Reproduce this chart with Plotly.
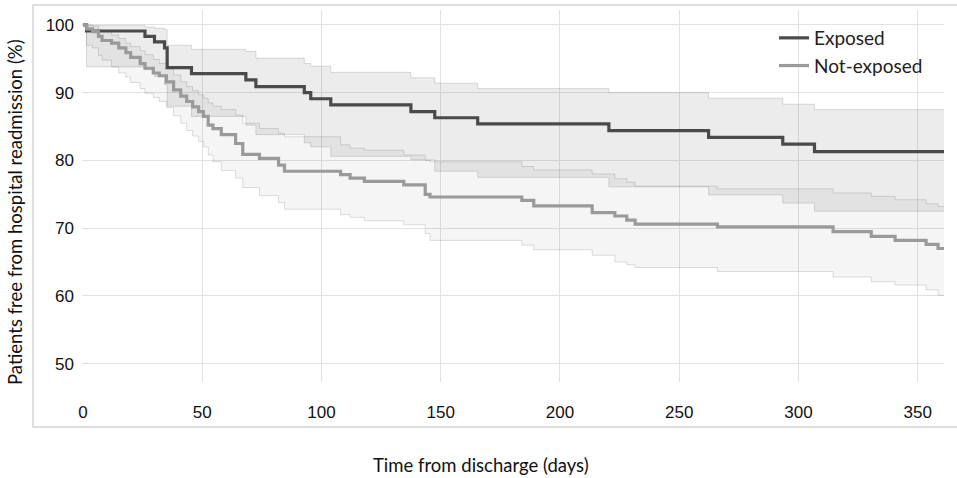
import plotly.graph_objects as go

# ---------------- data ----------------
exp_days = [0, 1.5, 26, 30, 34.2, 35.3, 45.5, 68.3, 72.5, 92.8, 95.5, 103.9, 137.5, 147.5, 165.5, 220.5, 262.3, 293.4, 306.7, 361]
exp_surv = [100, 99.1, 98.3, 97.5, 96.6, 93.7, 92.8, 91.9, 90.9, 90.0, 89.1, 88.2, 87.2, 86.3, 85.4, 84.4, 83.4, 82.4, 81.3, 81.3]
exp_upper = [100, 99.9, 99.7, 99.5, 99.3, 97.0, 96.4, 96.1, 95.1, 94.3, 93.9, 93.0, 92.2, 91.4, 90.6, 90.0, 89.2, 88.3, 87.5, 87.5]
exp_lower = [100, 93.8, 93.4, 92.4, 91.2, 88.0, 86.5, 85.2, 83.8, 82.6, 82.0, 80.6, 80.1, 78.4, 77.5, 76.1, 74.9, 73.7, 72.5, 72.5]

nexp_days = [0, 1.5, 4, 6.5, 8, 12, 15, 18, 20, 24, 26, 29.5, 32, 35, 38, 41, 43.5, 46, 48.5, 50.5,
             52.5, 54.5, 58, 64, 67, 74, 82, 84.5, 108, 112, 118, 134.5, 143.5, 145.5, 184, 189,
             213.5, 223, 228, 231.5, 266, 314.5, 330.5, 340.5, 353.5, 358.5, 361]
nexp_surv = [100, 99.4, 99.0, 98.3, 97.7, 97.3, 96.6, 95.9, 95.2, 94.3, 93.6, 92.9, 92.5, 91.6, 90.4, 89.5, 88.7, 87.9, 87.2, 86.5,
             85.2, 84.7, 83.8, 82.5, 80.9, 80.3, 79.3, 78.4, 77.9, 77.4, 76.9, 76.4, 75.0, 74.6, 74.1, 73.3,
             72.3, 71.8, 71.2, 70.6, 70.2, 69.5, 68.8, 68.2, 67.6, 67.0, 67.0]
nexp_upper = [100, 100, 99.8, 99.3, 99.0, 98.5, 98.0, 97.3, 96.8, 96.2, 95.6, 94.9, 94.3, 93.5, 92.6, 91.6, 90.9, 90.3, 89.7, 89.2,
              88.5, 88.0, 87.5, 86.7, 85.5, 84.7, 84.0, 83.5, 82.3, 81.8, 81.5, 80.8, 80.0, 79.8, 79.1, 78.6,
              78.0, 77.3, 76.8, 76.2, 75.8, 75.2, 74.7, 74.2, 73.6, 73.2, 73.2]
nexp_lower = [100, 97.0, 96.6, 95.5, 94.8, 93.8, 92.9, 92.3, 91.5, 90.6, 89.9, 89.3, 88.7, 87.8, 86.6, 85.5, 84.4, 83.6, 82.8, 82.0,
              80.8, 79.8, 78.5, 77.4, 76.0, 74.8, 73.8, 72.8, 72.0, 71.6, 71.1, 70.5, 69.2, 68.2, 67.5, 66.8,
              66.0, 65.0, 64.6, 64.2, 63.6, 62.8, 62.1, 61.6, 60.9, 60.1, 60.1]

x_ticks = [0, 50, 100, 150, 200, 250, 300, 350]
y_ticks = [50, 60, 70, 80, 90, 100]
series_names = ["Exposed", "Not-exposed"]

# ---------------- figure ----------------
FONT = "Liberation Sans, Arial, sans-serif"
TFONT = "Lato, Noto Sans, sans-serif"
fig = go.Figure()

band_line = dict(color="rgba(0,0,0,0.13)", width=1, shape="hv")

# Not-exposed band
fig.add_trace(go.Scatter(x=nexp_days, y=nexp_lower, mode="lines", line=band_line,
                         showlegend=False, hoverinfo="skip"))
fig.add_trace(go.Scatter(x=nexp_days, y=nexp_upper, mode="lines", line=band_line,
                         fill="tonexty", fillcolor="rgba(0,0,0,0.04)",
                         showlegend=False, hoverinfo="skip"))
# Exposed band
fig.add_trace(go.Scatter(x=exp_days, y=exp_lower, mode="lines", line=band_line,
                         showlegend=False, hoverinfo="skip"))
fig.add_trace(go.Scatter(x=exp_days, y=exp_upper, mode="lines", line=band_line,
                         fill="tonexty", fillcolor="rgba(0,0,0,0.075)",
                         showlegend=False, hoverinfo="skip"))

# Survival lines
fig.add_trace(go.Scatter(x=exp_days, y=exp_surv, mode="lines", name=series_names[0],
                         line=dict(color="#4a4a4a", width=3.2, shape="hv")))
fig.add_trace(go.Scatter(x=nexp_days, y=nexp_surv, mode="lines", name=series_names[1],
                         line=dict(color="#9a9a9a", width=3.2, shape="hv")))

L, R, T, B = 82, 13, 10, 96
W, H = 957, 478
pw, ph = W - L - R, H - T - B

def px_x(px):
    return (px - L) / pw

def px_y(py):
    return (H - B - py) / ph

fig.update_layout(
    width=W, height=H,
    margin=dict(l=L, r=R, t=T, b=B),
    paper_bgcolor="white", plot_bgcolor="white",
    font=dict(family=FONT, size=17, color="#111"),
    showlegend=True,
    legend=dict(x=px_x(774), y=px_y(19), xanchor="left", yanchor="top", traceorder="normal",
                bgcolor="rgba(0,0,0,0)", font=dict(family=TFONT, size=19, color="#222"),
                tracegroupgap=0, itemwidth=30),
    xaxis=dict(range=[-0.4, 361], tickvals=x_ticks, ticktext=[str(v) for v in x_ticks],
               showgrid=True, gridcolor="#e2e2e2", gridwidth=1, zeroline=False,
               showline=False, ticks="", ticklabelstandoff=18,
               tickfont=dict(family=FONT, size=17, color="#111")),
    yaxis=dict(range=[47.3, 102.2], tickvals=y_ticks, ticktext=[str(v) for v in y_ticks],
               showgrid=True, gridcolor="#e2e2e2", gridwidth=1, zeroline=False,
               showline=False, ticks="", ticklabelstandoff=7,
               tickfont=dict(family=FONT, size=17, color="#111")),
    shapes=[dict(type="rect", xref="paper", yref="paper",
                 x0=px_x(33), x1=px_x(960), y0=px_y(427), y1=px_y(5),
                 line=dict(color="#d3d3d3", width=1.5), fillcolor="rgba(0,0,0,0)", layer="below")],
    annotations=[
        dict(text="Time from discharge (days)", xref="paper", yref="paper",
             x=px_x(481), y=px_y(465), xanchor="center", yanchor="middle", showarrow=False,
             font=dict(family=TFONT, size=18.5, color="#111")),
        dict(text="Patients free from hospital readmission (%)", xref="paper", yref="paper",
             x=px_x(15), y=px_y(212), xanchor="center", yanchor="middle", showarrow=False,
             textangle=-90, font=dict(family=TFONT, size=18.5, color="#111")),
    ],
)

fig.write_html("out.html", config={"displayModeBar": False},
               post_script="document.body.style.margin='0';document.body.style.overflow='hidden';")
